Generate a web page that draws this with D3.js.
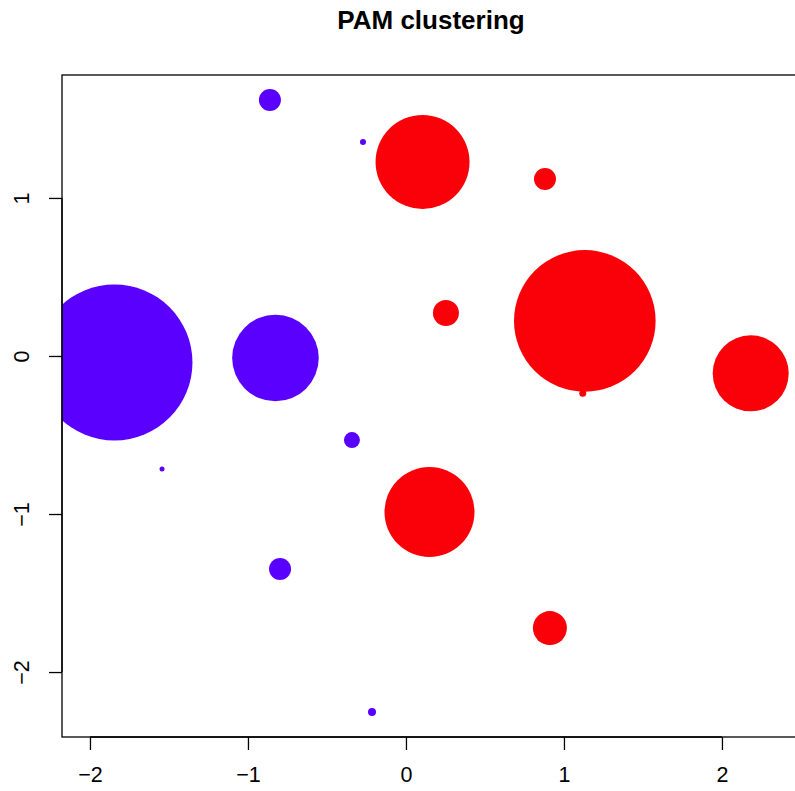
<!DOCTYPE html>
<html>
<head>
<meta charset="utf-8">
<script src="https://cdn.jsdelivr.net/npm/d3@7"></script>
<style>
  html, body { margin: 0; padding: 0; background: #fff; }
  svg { display: block; }
  text { font-family: "Liberation Sans", Arial, Helvetica, sans-serif; }
</style>
</head>
<body>
<script>
// Cluster members: coordinates on the first two components, point size, cluster id
const xValues = [-1.845, -0.861, -0.272, -0.826, -0.342, -1.544, -0.797, -0.215,
                  0.105,  0.880,  0.253,  1.132,  1.119,  2.182,  0.149,  0.911];
const yValues = [-0.041,  1.620,  1.354, -0.013, -0.532, -0.715, -1.348, -2.253,
                  1.228,  1.120,  0.272,  0.222, -0.236, -0.110, -0.987, -1.722];
const sizes   = [ 7.8, 1.1, 0.3, 4.33, 0.8, 0.25, 1.1, 0.4,
                  4.7, 1.1, 1.3, 7.08, 0.35, 3.8, 4.5, 1.7];
const cluster = [1, 1, 1, 1, 1, 1, 1, 1,
                 2, 2, 2, 2, 2, 2, 2, 2];
const clusterColors = ["#5a00ff", "#fa0008"];
const xTicks = [-2, -1, 0, 1, 2];
const yTicks = [-2, -1, 0, 1];
const title = "PAM clustering";

const W = 795, H = 791;
const plot = { left: 62, right: 800, top: 75, bottom: 737 };
const tickFont = 21.5;

const svg = d3.select("body").append("svg")
  .attr("width", W).attr("height", H);

const x = d3.scaleLinear().domain([-2.177, 2.494]).range([plot.left, plot.right]);
const y = d3.scaleLinear().domain([-2.411, 1.778]).range([plot.bottom, plot.top]);
const r = d3.scaleLinear().domain([0, 1]).range([0, 10]);

svg.append("clipPath").attr("id", "plot-clip")
  .append("rect")
  .attr("x", plot.left).attr("y", plot.top)
  .attr("width", plot.right - plot.left).attr("height", plot.bottom - plot.top);

const points = xValues.map((v, i) => ({ x: v, y: yValues[i], s: sizes[i], c: cluster[i] }));

svg.append("g").attr("clip-path", "url(#plot-clip)")
  .selectAll("circle").data(points).join("circle")
  .attr("cx", d => x(d.x))
  .attr("cy", d => y(d.y))
  .attr("r", d => r(d.s))
  .attr("fill", d => clusterColors[d.c - 1]);

// plot frame
svg.append("rect")
  .attr("x", plot.left).attr("y", plot.top)
  .attr("width", plot.right - plot.left).attr("height", plot.bottom - plot.top)
  .attr("fill", "none").attr("stroke", "#000").attr("stroke-width", 1.3);

// bottom axis
const gx = svg.append("g").attr("transform", `translate(0,${plot.bottom})`)
  .call(d3.axisBottom(x).tickValues(xTicks).tickSize(13).tickPadding(17)
    .tickFormat(d3.format("d")));
gx.select(".domain").remove();
gx.append("line")
  .attr("x1", x(xTicks[0])).attr("x2", x(xTicks[xTicks.length - 1]))
  .attr("stroke", "#000").attr("stroke-width", 1.3);
gx.selectAll(".tick line").attr("stroke", "#000").attr("stroke-width", 1.3);
gx.selectAll(".tick text").attr("font-size", tickFont).attr("fill", "#000")
  .attr("font-family", "'Liberation Sans', Arial, sans-serif");

// left axis with labels turned parallel to the axis
const gy = svg.append("g").attr("transform", `translate(${plot.left},0)`)
  .call(d3.axisLeft(y).tickValues(yTicks).tickSize(13).tickFormat(d3.format("d")));
gy.select(".domain").remove();
gy.append("line")
  .attr("y1", y(yTicks[0])).attr("y2", y(yTicks[yTicks.length - 1]))
  .attr("stroke", "#000").attr("stroke-width", 1.3);
gy.selectAll(".tick line").attr("stroke", "#000").attr("stroke-width", 1.3);
gy.selectAll(".tick text")
  .attr("font-size", tickFont).attr("fill", "#000")
  .attr("font-family", "'Liberation Sans', Arial, sans-serif")
  .attr("x", null).attr("dy", null)
  .attr("text-anchor", "middle")
  .attr("transform", "translate(-33,0) rotate(-90)");

// title
svg.append("text")
  .attr("x", (plot.left + plot.right) / 2).attr("y", 29)
  .attr("text-anchor", "middle")
  .attr("font-size", 26).attr("font-weight", "bold")
  .text(title);
</script>
</body>
</html>
